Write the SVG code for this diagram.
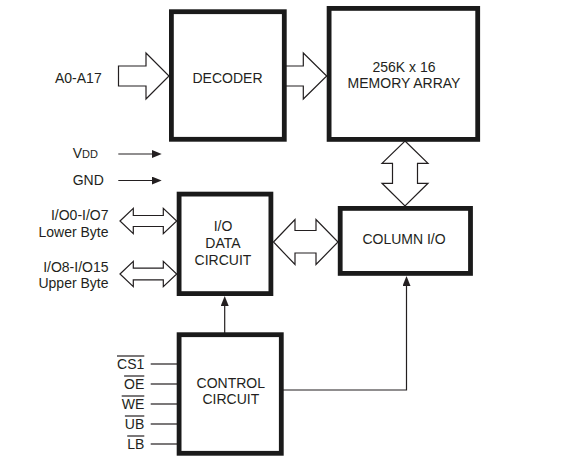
<svg xmlns="http://www.w3.org/2000/svg" width="567" height="469" viewBox="0 0 567 469">
<style>
.box{fill:#fff;stroke:#1a1a1a;stroke-width:4.8}
.blk{fill:#fff;stroke:#231f20;stroke-width:1.2;stroke-linejoin:miter}
.ln{fill:none;stroke:#231f20;stroke-width:1.2}
.t{font-family:"Liberation Sans",Arial,sans-serif;font-size:14px;fill:#231f20}
.m{text-anchor:middle}
.e{text-anchor:end}
</style>
<defs>
<marker id="ah" markerUnits="userSpaceOnUse" markerWidth="10" markerHeight="8" viewBox="0 0 10 8" refX="2" refY="4" orient="auto">
<path d="M0,0 L10,4 L0,8 z" fill="#231f20"/>
</marker>
</defs>
<rect width="567" height="469" fill="#fff"/>
<g id="connectors">
<polygon class="blk" points="118.5,66 146,66 146,53 169,76 146,99 146,86 118.5,86"/>
<polygon class="blk" points="284,66 303.3,66 303.3,53 326.7,76 303.3,99 303.3,86 284,86"/>
<polygon class="blk" points="405,141 428,163.3 417.5,163.3 417.5,183.3 428,183.3 405,206 382,183.3 392.5,183.3 392.5,163.3 382,163.3"/>
<polygon class="blk" points="273.5,242 295,219.5 295,230.5 316,230.5 316,219.5 338,242 316,264.5 316,253 295,253 295,264.5"/>
<polygon class="blk" points="120,221 133.3,208.3 133.3,215.5 163.3,215.5 163.3,208.3 176.7,221 163.3,233.7 163.3,226.5 133.3,226.5 133.3,233.7"/>
<polygon class="blk" points="120,274 133.3,261.3 133.3,268.2 163.3,268.2 163.3,261.3 176.7,274 163.3,286.7 163.3,279.8 133.3,279.8 133.3,286.7"/>
<line class="ln" x1="118.3" y1="154" x2="153.7" y2="154" marker-end="url(#ah)"/>
<line class="ln" x1="118.3" y1="180.5" x2="153.7" y2="180.5" marker-end="url(#ah)"/>
<line class="ln" x1="224.7" y1="333" x2="224.7" y2="304" marker-end="url(#ah)"/>
<polyline class="ln" points="282,390 406.5,390 406.5,284" marker-end="url(#ah)"/>
<line class="ln" x1="150.7" y1="364" x2="177" y2="364"/>
<line class="ln" x1="150.7" y1="384" x2="177" y2="384"/>
<line class="ln" x1="150.7" y1="404" x2="177" y2="404"/>
<line class="ln" x1="150.7" y1="424" x2="177" y2="424"/>
<line class="ln" x1="150.7" y1="444" x2="177" y2="444"/>
</g>
<g id="decoder">
<rect class="box" x="171.4" y="11.7" width="112.9" height="127.6"/>
<text class="t m" x="227.5" y="82.7">DECODER</text>
</g>
<g id="memory-array">
<rect class="box" x="329.1" y="8.4" width="148.6" height="131"/>
<text class="t m" x="404" y="71.7">256K x 16</text>
<text class="t m" x="404" y="88.3">MEMORY ARRAY</text>
</g>
<g id="io-data-circuit">
<rect class="box" x="179.1" y="194.1" width="91.8" height="99.5"/>
<text class="t m" x="223" y="231">I/O</text>
<text class="t m" x="223" y="248">DATA</text>
<text class="t m" x="223" y="264.7">CIRCUIT</text>
</g>
<g id="column-io">
<rect class="box" x="340.2" y="208.4" width="130.3" height="65"/>
<text class="t m" x="404" y="244.3">COLUMN I/O</text>
</g>
<g id="control-circuit">
<rect class="box" x="179.1" y="334.7" width="102.2" height="118.6"/>
<text class="t m" x="230.8" y="387.7">CONTROL</text>
<text class="t m" x="230.8" y="404.3">CIRCUIT</text>
</g>
<g id="labels">
<text class="t e" x="101.7" y="82.7">A0-A17</text>
<text class="t" x="72.7" y="158.3">V<tspan font-size="11">DD</tspan></text>
<text class="t" x="72.7" y="185">GND</text>
<text class="t e" x="108.5" y="220">I/O0-I/O7</text>
<text class="t e" x="108.5" y="236.7">Lower Byte</text>
<text class="t e" x="108.5" y="271.7">I/O8-I/O15</text>
<text class="t e" x="108.5" y="288.3">Upper Byte</text>
<text class="t e" x="144.3" y="369">CS1</text>
<text class="t e" x="144.3" y="389">OE</text>
<text class="t e" x="144.3" y="409">WE</text>
<text class="t e" x="144.3" y="429">UB</text>
<text class="t e" x="144.3" y="449">LB</text>
<g class="ln">
<line x1="117" y1="356" x2="144.3" y2="356"/>
<line x1="124.1" y1="376" x2="144.3" y2="376"/>
<line x1="121.7" y1="396" x2="144.3" y2="396"/>
<line x1="124.9" y1="416" x2="144.3" y2="416"/>
<line x1="127.2" y1="436" x2="144.3" y2="436"/>
</g>
</g>
</svg>
